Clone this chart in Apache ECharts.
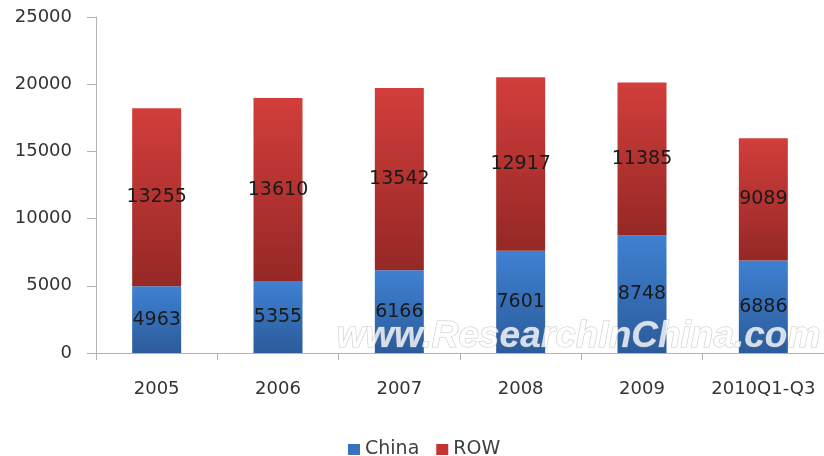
<!DOCTYPE html>
<html>
<head>
<meta charset="utf-8">
<script src="https://cdn.jsdelivr.net/npm/echarts@6/dist/echarts.min.js"></script>
<style>html,body{margin:0;padding:0;background:#fff}#c{width:824px;height:456px}</style>
</head>
<body>
<div id="c"></div>
<script>
var categories = ['2005', '2006', '2007', '2008', '2009', '2010Q1-Q3'];
var chinaValues = [4963, 5355, 6166, 7601, 8748, 6886];
var rowValues = [13255, 13610, 13542, 12917, 11385, 9089];
var seriesNames = ['China', 'ROW'];
var watermarkText = 'www.ResearchInChina.com';

var chart = echarts.init(document.getElementById('c'));
function grad(top, bottom) {
  return new echarts.graphic.LinearGradient(0, 0, 0, 1, [
    {offset: 0, color: top}, {offset: 1, color: bottom}
  ]);
}
var labelStyle = {
  show: true, position: 'inside', color: '#1a1a1a',
  fontFamily: 'DejaVu Sans', fontSize: 19, textBorderWidth: 0
};
chart.setOption({
  animation: false,
  backgroundColor: '#fff',
  grid: {left: 96, top: 17, width: 733, height: 336, containLabel: false},
  legend: {
    left: 343, top: 435, itemWidth: 12, itemHeight: 11, itemGap: 17,
    icon: 'rect',
    textStyle: {fontFamily: 'DejaVu Sans', fontSize: 19, color: '#404040'},
    data: [
      {name: seriesNames[0], itemStyle: {color: '#3a73bd'}},
      {name: seriesNames[1], itemStyle: {color: '#c23331'}}
    ]
  },
  xAxis: {
    type: 'category', data: categories,
    axisLine: {lineStyle: {color: '#b3b3b3', width: 1}},
    axisTick: {show: true, length: 7, lineStyle: {color: '#b3b3b3'}},
    axisLabel: {color: '#333', fontFamily: 'DejaVu Sans', fontSize: 18, margin: 27, interval: 0}
  },
  yAxis: {
    type: 'value', min: 0, max: 25000, interval: 5000,
    axisLine: {show: true, lineStyle: {color: '#b3b3b3', width: 1}},
    axisTick: {show: true, length: 9, lineStyle: {color: '#b3b3b3'}},
    splitLine: {show: false},
    axisLabel: {color: '#333', fontFamily: 'DejaVu Sans', fontSize: 18, margin: 24,
      formatter: function (v) { return String(v); }}
  },
  series: [
    {
      name: seriesNames[0], type: 'bar', stack: 'total', barWidth: 49,
      data: chinaValues,
      itemStyle: {color: grad('#3f81d2', '#2b5b9b')},
      label: labelStyle
    },
    {
      name: seriesNames[1], type: 'bar', stack: 'total', barWidth: 49,
      data: rowValues,
      itemStyle: {color: grad('#d23e3b', '#952826')},
      label: labelStyle
    }
  ],
  graphic: [{
    type: 'text', left: 336, top: 318, z: 100, silent: true,
    style: {
      text: watermarkText,
      font: 'italic bold 37px "Liberation Sans"',
      fill: 'rgba(255,255,255,0.8)',
      stroke: 'rgba(150,150,150,0.5)', lineWidth: 1
    }
  }]
});
</script>
</body>
</html>
